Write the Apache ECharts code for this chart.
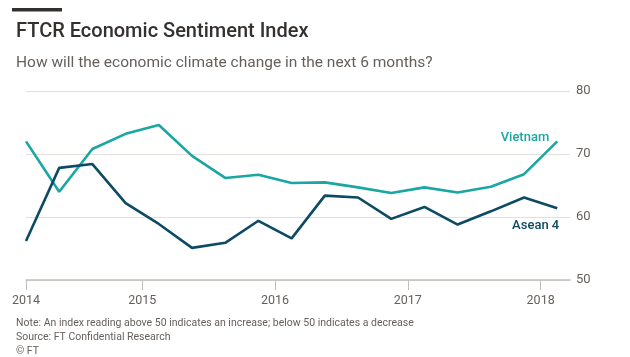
<!DOCTYPE html>
<html>
<head>
<meta charset="utf-8">
<script src="https://cdn.jsdelivr.net/npm/echarts@6/dist/echarts.min.js"></script>
<style>
html,body{margin:0;padding:0;background:#fff;}
#main{width:630px;height:357px;}
</style>
</head>
<body>
<div id="main"></div>
<script>
// Quarterly survey periods (year-month)
const periods = ['2014-02','2014-05','2014-08','2014-11','2015-02','2015-05','2015-08','2015-11',
  '2016-02','2016-05','2016-08','2016-11','2017-02','2017-05','2017-08','2017-11','2018-02'];
const vietnam = [72.0, 64.0, 70.8, 73.2, 74.6, 69.7, 66.2, 66.7, 65.4, 65.5, 64.7, 63.8, 64.7, 63.9, 64.8, 66.8, 72.0];
const asean4  = [56.2, 67.8, 68.4, 62.2, 58.9, 55.1, 55.9, 59.4, 56.6, 63.4, 63.1, 59.7, 61.6, 58.8, 60.9, 63.1, 61.4];
const xTickLabels = ['2014','2015','2016','2017','2018'];
const yTicks = [50, 60, 70, 80];
const seriesNames = ['Vietnam', 'Asean 4'];

const FONT = 'Roboto, "Noto Sans", sans-serif';
const toYear = p => { const [y, m] = p.split('-').map(Number); return y + (m - 0.5) / 12; };
const xs = periods.map(toYear);
const xMin = xs[0];
const xTickValues = [xMin].concat(xTickLabels.slice(1).map(Number));

const chart = echarts.init(document.getElementById('main'), null, {renderer: 'canvas'});
chart.setOption({
  animation: false,
  backgroundColor: '#ffffff',
  title: [
    {text: 'FTCR Economic Sentiment Index', left: 11, top: 17,
     textStyle: {fontFamily: FONT, fontSize: 20, fontWeight: 500, color: '#33302e'}},
    {text: 'How will the economic climate change in the next 6 months?', left: 11, top: 50,
     textStyle: {fontFamily: FONT, fontSize: 15.5, fontWeight: 'normal', color: '#66605c'}},
    {text: 'Note: An index reading above 50 indicates an increase; below 50 indicates a decrease\nSource: FT Confidential Research\n© FT',
     left: 11, top: 311,
     textStyle: {fontFamily: FONT, fontSize: 10.5, fontWeight: 'normal', color: '#66605c', lineHeight: 14}}
  ],
  graphic: [
    {type: 'rect', left: 12, top: 8, shape: {width: 50, height: 3.5}, style: {fill: '#33302e'}}
  ],
  grid: {left: 26, right: 60, top: 91, bottom: 77, containLabel: false},
  xAxis: {
    type: 'value', min: xMin, max: xMin + 4.096,
    splitLine: {show: false},
    axisLine: {show: true, lineStyle: {color: '#c2bfbb', width: 1.5}},
    axisTick: {show: true, length: 10, customValues: xTickValues, lineStyle: {color: '#c2bfbb', width: 1}},
    axisLabel: {customValues: xTickValues, margin: 14, fontFamily: FONT, fontSize: 12.5, color: '#66605c',
      formatter: v => xTickLabels[xTickValues.indexOf(v)] || ''}
  },
  yAxis: {
    type: 'value', position: 'right', min: yTicks[0], max: yTicks[yTicks.length - 1], interval: 10,
    axisLine: {show: false}, axisTick: {show: false},
    splitLine: {show: true, lineStyle: {color: '#e3e0dc', width: 1}},
    axisLabel: {margin: 6, fontFamily: FONT, fontSize: 13, color: '#66605c'}
  },
  series: [
    {name: seriesNames[0], type: 'line', symbol: 'none', z: 3,
     data: xs.map((x, i) => [x, vietnam[i]]),
     lineStyle: {color: '#1aa6a2', width: 2.6},
     endLabel: {show: true, formatter: seriesNames[0], distance: 0, align: 'right', verticalAlign: 'middle',
       offset: [-8, -4], fontFamily: FONT, fontSize: 13, fontWeight: 500, color: '#1aa6a2'}},
    {name: seriesNames[1], type: 'line', symbol: 'none', z: 4,
     data: xs.map((x, i) => [x, asean4[i]]),
     lineStyle: {color: '#0d4a63', width: 2.6},
     endLabel: {show: true, formatter: seriesNames[1], distance: 0, align: 'right', verticalAlign: 'middle',
       offset: [2, 18], fontFamily: FONT, fontSize: 13, fontWeight: 500, color: '#0d4a63'}}
  ]
});
</script>
</body>
</html>
